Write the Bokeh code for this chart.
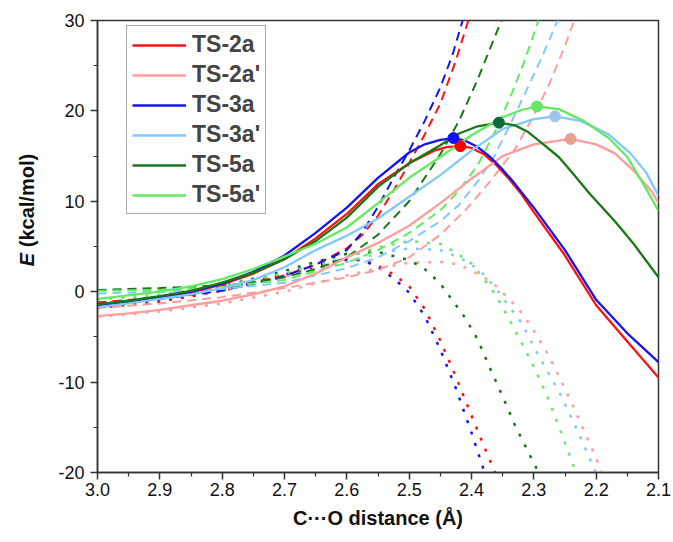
from bokeh.plotting import figure
from bokeh.layouts import row
from bokeh.models import Range1d, Legend, LegendItem, FixedTicker, PrintfTickFormatter, Div
from bokeh.embed import file_html
from bokeh.resources import INLINE

# ---------------- data ----------------
series_names = ["TS-2a", "TS-2a'", "TS-3a", "TS-3a'", "TS-5a", "TS-5a'"]
line_colors = ["#ff1010", "#ff9c9c", "#1414f0", "#80c8ff", "#187818", "#62ea62"]
dot_colors = ["#ff0000", "#e8a090", "#1010ff", "#a0c4e8", "#0a6a3a", "#66e866"]

# transition-state points
ts_x = [2.418, 2.241, 2.429, 2.266, 2.356, 2.295]
ts_y = [16.1, 16.9, 17.0, 19.4, 18.7, 20.5]

# total energy (solid)
tot_2a_x = [3.0, 2.95, 2.9, 2.85, 2.8, 2.75, 2.7, 2.65, 2.6, 2.55, 2.5, 2.46, 2.44, 2.418, 2.40, 2.38, 2.36, 2.34, 2.32, 2.3, 2.25, 2.2, 2.15, 2.1]
tot_2a_y = [-1.6, -1.2, -0.7, -0.1, 0.8, 2.0, 3.6, 5.9, 8.6, 11.9, 14.2, 15.6, 16.0, 16.1, 15.9, 15.2, 14.0, 12.5, 10.8, 8.8, 4.0, -1.5, -5.5, -9.5]
tot_2ap_x = [3.0, 2.95, 2.9, 2.85, 2.8, 2.75, 2.7, 2.65, 2.6, 2.55, 2.5, 2.45, 2.4, 2.35, 2.3, 2.241, 2.2, 2.17, 2.14, 2.11, 2.1]
tot_2ap_y = [-2.7, -2.4, -2.0, -1.5, -1.0, -0.3, 0.6, 2.0, 3.8, 5.4, 7.3, 9.8, 12.5, 15.0, 16.3, 16.9, 16.3, 15.3, 13.4, 11.0, 9.8]
tot_3a_x = [3.0, 2.95, 2.9, 2.85, 2.8, 2.75, 2.7, 2.65, 2.6, 2.55, 2.5, 2.475, 2.45, 2.429, 2.41, 2.39, 2.37, 2.35, 2.33, 2.3, 2.25, 2.2, 2.15, 2.1]
tot_3a_y = [-1.5, -1.1, -0.6, 0.0, 0.9, 2.2, 4.0, 6.5, 9.3, 12.6, 15.4, 16.3, 16.8, 17.0, 16.7, 16.0, 14.9, 13.5, 11.9, 9.3, 4.6, -0.9, -4.6, -7.8]
tot_3ap_x = [3.0, 2.95, 2.9, 2.85, 2.8, 2.75, 2.7, 2.65, 2.6, 2.55, 2.5, 2.45, 2.4, 2.35, 2.3, 2.266, 2.225, 2.18, 2.145, 2.12, 2.1]
tot_3ap_y = [-1.7, -1.3, -0.8, -0.3, 0.4, 1.3, 2.7, 4.6, 6.2, 8.1, 10.5, 12.9, 15.6, 18.0, 19.1, 19.4, 18.9, 17.4, 15.3, 13.2, 10.6]
tot_5a_x = [3.0, 2.95, 2.9, 2.85, 2.8, 2.75, 2.7, 2.65, 2.6, 2.55, 2.5, 2.45, 2.42, 2.39, 2.356, 2.33, 2.31, 2.29, 2.26, 2.24, 2.21, 2.17, 2.14, 2.1]
tot_5a_y = [-1.4, -1.0, -0.5, 0.1, 1.0, 2.1, 3.6, 5.6, 8.2, 11.6, 14.2, 16.2, 17.5, 18.3, 18.7, 18.4, 17.7, 16.6, 14.9, 13.3, 10.8, 7.8, 5.3, 1.6]
tot_5ap_x = [3.0, 2.95, 2.9, 2.85, 2.8, 2.75, 2.7, 2.65, 2.6, 2.55, 2.5, 2.45, 2.4, 2.35, 2.32, 2.295, 2.26, 2.22, 2.18, 2.15, 2.12, 2.1]
tot_5ap_y = [-0.8, -0.4, 0.0, 0.6, 1.4, 2.5, 3.9, 5.3, 7.1, 9.8, 12.6, 14.9, 17.3, 19.3, 20.1, 20.5, 20.2, 18.9, 17.0, 14.9, 11.4, 8.9]

# distortion energy (dashed)
dis_2a_x = [3.0, 2.9, 2.8, 2.7, 2.65, 2.6, 2.575, 2.55, 2.525, 2.5, 2.475, 2.45, 2.425, 2.4]
dis_2a_y = [-1.2, -0.6, 0.3, 1.8, 3.0, 4.8, 6.3, 8.4, 11.2, 14.2, 17.4, 20.8, 25.6, 31.1]
dis_2ap_x = [3.0, 2.9, 2.8, 2.7, 2.6, 2.55, 2.5, 2.45, 2.41, 2.37, 2.33, 2.3, 2.275, 2.25, 2.23]
dis_2ap_y = [-1.8, -1.3, -0.6, 0.4, 1.6, 2.4, 3.8, 6.3, 9.0, 12.2, 15.8, 19.5, 23.0, 27.2, 31.0]
dis_3a_x = [3.0, 2.9, 2.8, 2.7, 2.65, 2.6, 2.575, 2.55, 2.525, 2.5, 2.475, 2.45, 2.43, 2.41]
dis_3a_y = [-1.4, -0.8, 0.1, 1.7, 3.0, 4.6, 6.6, 9.4, 12.6, 15.6, 18.9, 22.6, 26.3, 31.0]
dis_3ap_x = [3.0, 2.9, 2.8, 2.7, 2.6, 2.55, 2.5, 2.45, 2.42, 2.39, 2.365, 2.34, 2.315, 2.29, 2.265, 2.255]
dis_3ap_y = [-0.2, 0.0, 0.3, 1.0, 2.6, 3.8, 5.6, 7.8, 9.6, 12.2, 14.8, 18.2, 21.8, 25.5, 29.5, 31.0]
dis_5a_x = [3.0, 2.9, 2.8, 2.75, 2.7, 2.65, 2.6, 2.55, 2.5, 2.45, 2.42, 2.39, 2.355, 2.345]
dis_5a_y = [0.2, 0.4, 0.7, 1.0, 1.6, 2.5, 3.8, 6.3, 10.0, 15.2, 18.9, 23.5, 29.5, 31.0]
dis_5ap_x = [3.0, 2.9, 2.8, 2.7, 2.6, 2.55, 2.5, 2.45, 2.42, 2.39, 2.36, 2.335, 2.315, 2.29]
dis_5ap_y = [0.1, 0.2, 0.5, 1.3, 3.2, 4.6, 6.5, 9.0, 11.2, 14.0, 18.0, 22.0, 25.5, 30.5]

# interaction energy (dotted)
int_2a_x = [3.0, 2.9, 2.8, 2.7, 2.65, 2.6, 2.575, 2.55, 2.525, 2.5, 2.475, 2.45, 2.425, 2.4, 2.38, 2.36, 2.355]
int_2a_y = [-1.8, -1.1, 0.1, 1.7, 2.8, 3.5, 3.5, 2.9, 1.9, 0.6, -1.9, -5.4, -9.4, -13.7, -17.1, -20.3, -21.2]
int_2ap_x = [3.0, 2.9, 2.8, 2.7, 2.6, 2.55, 2.5, 2.45, 2.42, 2.4, 2.38, 2.36, 2.34, 2.32, 2.3, 2.28, 2.26, 2.24, 2.22, 2.2, 2.19]
int_2ap_y = [-2.8, -2.2, -1.3, 0.0, 1.8, 2.6, 3.2, 3.3, 3.0, 2.3, 1.6, 0.6, -0.8, -2.3, -4.3, -6.6, -9.3, -12.2, -15.3, -18.4, -20.2]
int_3a_x = [3.0, 2.9, 2.8, 2.7, 2.65, 2.6, 2.575, 2.55, 2.525, 2.5, 2.475, 2.45, 2.425, 2.4, 2.38, 2.375]
int_3a_y = [-1.6, -0.9, 0.3, 1.9, 3.0, 3.6, 3.5, 2.7, 1.5, -0.1, -2.7, -6.4, -10.7, -15.6, -19.8, -21.0]
int_3ap_x = [3.0, 2.9, 2.8, 2.7, 2.6, 2.55, 2.5, 2.45, 2.42, 2.4, 2.38, 2.36, 2.34, 2.32, 2.3, 2.28, 2.26, 2.24, 2.22, 2.2]
int_3ap_y = [-1.4, -0.8, 0.2, 1.6, 3.3, 4.2, 4.8, 4.6, 3.8, 3.0, 1.9, 0.3, -1.6, -3.4, -6.1, -8.6, -11.0, -13.9, -16.9, -20.1]
int_5a_x = [3.0, 2.9, 2.8, 2.7, 2.65, 2.6, 2.55, 2.5, 2.475, 2.45, 2.43, 2.41, 2.39, 2.37, 2.35, 2.33, 2.31, 2.29, 2.285]
int_5a_y = [-1.4, -0.6, 0.6, 2.3, 3.3, 4.2, 4.4, 3.5, 2.5, 0.9, -1.0, -2.9, -5.3, -8.5, -11.6, -14.8, -17.6, -20.3, -21.0]
int_5ap_x = [3.0, 2.9, 2.8, 2.7, 2.6, 2.55, 2.5, 2.45, 2.42, 2.4, 2.38, 2.36, 2.34, 2.32, 2.3, 2.28, 2.26, 2.24, 2.23]
int_5ap_y = [-0.9, -0.3, 0.6, 2.0, 3.8, 4.9, 5.6, 5.3, 4.1, 3.1, 1.4, -0.5, -3.0, -5.6, -8.3, -11.3, -14.9, -18.6, -20.5]

x_ticks = [3.0, 2.9, 2.8, 2.7, 2.6, 2.5, 2.4, 2.3, 2.2, 2.1]
x_minor = [2.95, 2.85, 2.75, 2.65, 2.55, 2.45, 2.35, 2.25, 2.15]
y_ticks = [-20, -10, 0, 10, 20, 30]
y_minor = [-15, -5, 5, 15, 25]

totals = [(tot_2a_x, tot_2a_y), (tot_2ap_x, tot_2ap_y), (tot_3a_x, tot_3a_y),
          (tot_3ap_x, tot_3ap_y), (tot_5a_x, tot_5a_y), (tot_5ap_x, tot_5ap_y)]
dists = [(dis_2a_x, dis_2a_y), (dis_2ap_x, dis_2ap_y), (dis_3a_x, dis_3a_y),
         (dis_3ap_x, dis_3ap_y), (dis_5a_x, dis_5a_y), (dis_5ap_x, dis_5ap_y)]
ints = [(int_2a_x, int_2a_y), (int_2ap_x, int_2ap_y), (int_3a_x, int_3a_y),
        (int_3ap_x, int_3ap_y), (int_5a_x, int_5a_y), (int_5ap_x, int_5ap_y)]

# ---------------- layout ----------------
FONT = "Liberation Sans"
LABEL_W = 46
p = figure(width=672 - LABEL_W, height=540, x_range=Range1d(3.0, 2.1), y_range=Range1d(-20, 30),
           output_backend="svg", toolbar_location=None,
           min_border_left=97 - LABEL_W, min_border_right=14, min_border_top=20, min_border_bottom=68)
p.xgrid.visible = False
p.ygrid.visible = False
p.outline_line_color = "#333333"
p.outline_line_width = 1.5
p.background_fill_color = "white"
p.border_fill_color = "white"

p.xaxis.ticker = FixedTicker(ticks=x_ticks, minor_ticks=x_minor)
p.xaxis.formatter = PrintfTickFormatter(format="%.1f")
p.yaxis.ticker = FixedTicker(ticks=y_ticks, minor_ticks=y_minor)
p.yaxis.formatter = PrintfTickFormatter(format="%d")
for ax in (p.xaxis, p.yaxis):
    ax.axis_line_color = "#333333"
    ax.axis_line_width = 1.5
    ax.major_tick_line_color = "#333333"
    ax.minor_tick_line_color = "#333333"
    ax.major_tick_line_width = 1.5
    ax.minor_tick_line_width = 1.2
    ax.major_tick_out = 7
    ax.major_tick_in = 0
    ax.minor_tick_out = 4
    ax.minor_tick_in = 0
    ax.major_label_text_font = FONT
    ax.major_label_text_font_size = "18px"
    ax.major_label_text_color = "#111111"
p.xaxis.major_label_standoff = 3
p.yaxis.major_label_standoff = 6
p.xaxis.axis_label = "C\u00b7\u00b7\u00b7O distance (\u00c5)"
p.xaxis.axis_label_text_font = FONT
p.xaxis.axis_label_text_font_style = "bold"
p.xaxis.axis_label_text_font_size = "20px"
p.xaxis.axis_label_text_color = "#111111"
p.xaxis.axis_label_standoff = 8

# dotted, dashed, then solid
for (xs, ys), c in zip(ints, line_colors):
    p.line(xs, ys, line_color=c, line_width=2.5, line_dash="3 9")
for (xs, ys), c in zip(dists, line_colors):
    p.line(xs, ys, line_color=c, line_width=2.0, line_dash="9 6")
solid_renderers = []
for (xs, ys), c in zip(totals, line_colors):
    r = p.line(xs, ys, line_color=c, line_width=2.3)
    solid_renderers.append(r)
p.scatter(ts_x, ts_y, size=11, fill_color=dot_colors, line_color=dot_colors)

legend = Legend(items=[LegendItem(label=n, renderers=[r]) for n, r in zip(series_names, solid_renderers)],
                location=(29, 258))
legend.label_text_font = FONT
legend.label_text_font_style = "bold"
legend.label_text_font_size = "23px"
legend.glyph_width = 54
legend.glyph_height = 26
legend.label_height = 26
legend.spacing = 3
legend.padding = 5
legend.margin = 0
legend.label_standoff = 6
legend.border_line_color = "#555555"
legend.border_line_width = 1
legend.background_fill_color = "white"
legend.background_fill_alpha = 1
p.add_layout(legend)

# y-axis title (italic E) as rotated HTML text beside the plot
ylabel_html = (
    '<div style="position:absolute; left:-73px; top:198px; width:200px; height:24px; '
    'line-height:24px; text-align:center; white-space:nowrap; transform:rotate(-90deg); '
    "font-family:'Liberation Sans'; font-weight:bold; font-size:20px; color:#111111;\">"
    '<i>E</i> (kcal/mol)</div>'
)
ylab = Div(text=ylabel_html, width=LABEL_W, height=540, styles={"position": "relative", "margin": "0"})

open("out.html", "w").write(file_html(row(ylab, p), INLINE))
